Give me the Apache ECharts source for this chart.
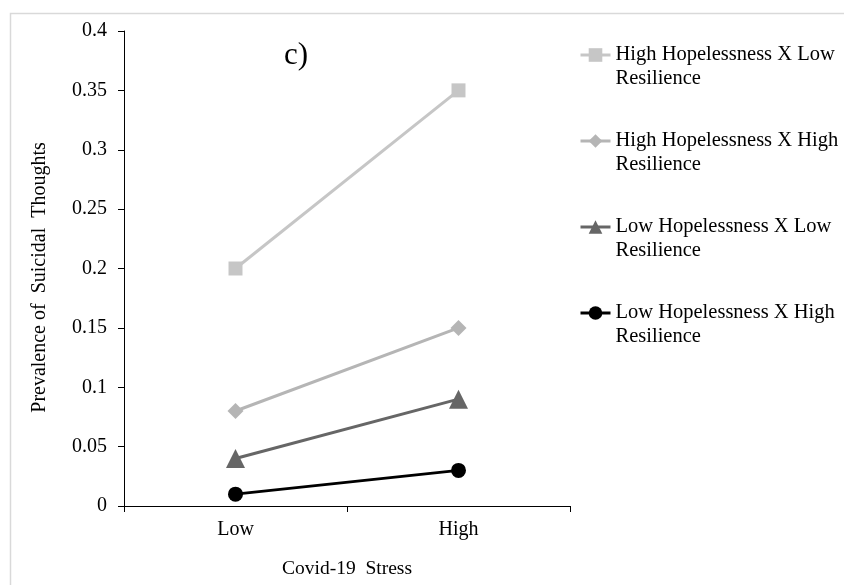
<!DOCTYPE html>
<html>
<head>
<meta charset="utf-8">
<script src="https://cdn.jsdelivr.net/npm/echarts@6/dist/echarts.min.js"></script>
<style>html,body{margin:0;padding:0;background:#fff}#c{width:844px;height:585px}</style>
</head>
<body>
<div id="c"></div>
<script>
const categories = ['Low', 'High'];
const seriesNames = [
  'High Hopelessness X Low Resilience',
  'High Hopelessness X High Resilience',
  'Low Hopelessness X Low Resilience',
  'Low Hopelessness X High Resilience'
];
const legendLabels = [
  'High Hopelessness X Low\nResilience',
  'High Hopelessness X High\nResilience',
  'Low Hopelessness X Low\nResilience',
  'Low Hopelessness X High\nResilience'
];
const hhLowRes = [0.20, 0.35];
const hhHighRes = [0.08, 0.15];
const lhLowRes = [0.04, 0.09];
const lhHighRes = [0.01, 0.03];
const yTicks = [0, 0.05, 0.1, 0.15, 0.2, 0.25, 0.3, 0.35, 0.4];

const FONT = '"Liberation Serif", "Times New Roman", serif';
const colors = ['#c6c6c6', '#b5b5b5', '#666666', '#000000'];
const symbols = ['rect', 'diamond', 'triangle', 'circle'];
const sizes = [14, 16, 19, 15];
const dataSets = [hhLowRes, hhHighRes, lhLowRes, lhHighRes];

const chart = echarts.init(document.getElementById('c'));
const labelMap = {};
seriesNames.forEach((n, i) => labelMap[n] = '\n' + legendLabels[i]);

chart.setOption({
  animation: false,
  backgroundColor: '#fff',
  graphic: [{
    type: 'rect', left: 8, top: 11, shape: { width: 900, height: 700 },
    style: { fill: 'none', stroke: '#d9d9d9', lineWidth: 1.5 }, silent: true, z: -1
  }, {
    type: 'text', x: 284, y: 56,
    style: { text: 'c)', font: '31px ' + FONT, fill: '#000', verticalAlign: 'middle', align: 'left' }
  }],
  grid: { left: 124, right: 274, top: 31, bottom: 79 },
  legend: {
    orient: 'vertical', left: 579, top: 19, itemGap: 14, padding: 0,
    itemWidth: 30, itemHeight: 17,
    data: seriesNames,
    formatter: n => labelMap[n],
    lineStyle: { width: 3 },
    textStyle: { fontFamily: FONT, fontSize: 20.5, color: '#000', lineHeight: 24 }
  },
  xAxis: {
    type: 'category', data: categories, boundaryGap: true,
    name: 'Covid-19  Stress', nameLocation: 'middle', nameGap: 53,
    nameTextStyle: { fontFamily: FONT, fontSize: 19.5, color: '#000' },
    axisLine: { lineStyle: { color: '#000', width: 1 } },
    axisTick: { show: true, length: 6, lineStyle: { color: '#000' } },
    axisLabel: { fontFamily: FONT, fontSize: 20, color: '#000', margin: 14 }
  },
  yAxis: {
    type: 'value', min: 0, max: 0.4, interval: 0.05,
    name: 'Prevalence of  Suicidal  Thoughts', nameLocation: 'middle', nameGap: 74,
    nameTextStyle: { fontFamily: FONT, fontSize: 20, color: '#000', padding: [0, 18, 0, 0] },
    axisLine: { show: true, lineStyle: { color: '#000', width: 1 } },
    axisTick: { show: true, length: 6, lineStyle: { color: '#000' } },
    splitLine: { show: false },
    axisLabel: {
      fontFamily: FONT, fontSize: 20, color: '#000', margin: 17,
      formatter: v => { const t = yTicks.find(x => Math.abs(x - v) < 1e-9); return String(t === undefined ? v : t); }
    }
  },
  series: seriesNames.map((n, i) => ({
    name: n, type: 'line', data: dataSets[i],
    symbol: symbols[i], symbolSize: sizes[i], showSymbol: true,
    lineStyle: { color: colors[i], width: 3 },
    itemStyle: { color: colors[i] },
    z: 10 - i
  }))
});
</script>
</body>
</html>
